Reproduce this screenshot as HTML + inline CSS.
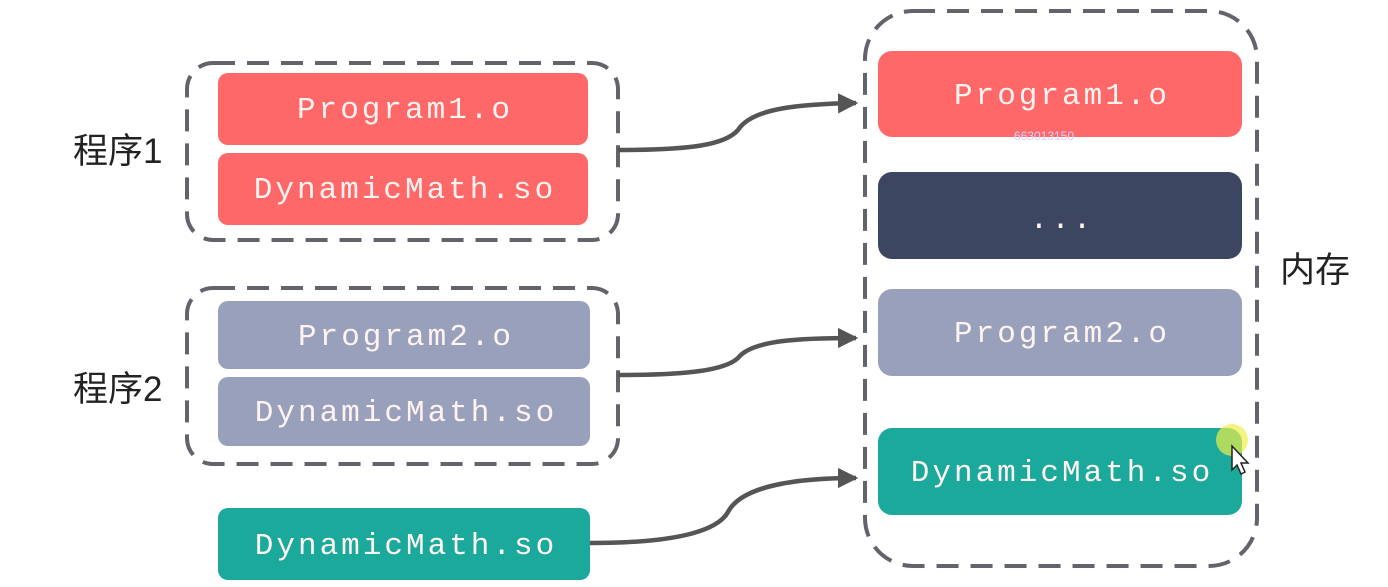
<!DOCTYPE html>
<html><head><meta charset="utf-8"><style>
html,body{margin:0;padding:0;background:#fff;width:1388px;height:587px;overflow:hidden}
svg{display:block}
.m{font-family:"Liberation Mono",monospace;font-size:31px;letter-spacing:3px;fill:#fdf3f0;text-anchor:middle}
.c{font-family:"Liberation Sans","Noto Sans CJK SC",sans-serif;font-size:35px;fill:#222}
</style></head><body>
<svg width="1388" height="587" viewBox="0 0 1388 587">
<defs><marker id="a" markerWidth="4.5" markerHeight="4.5" refX="4" refY="2.25" orient="auto" markerUnits="strokeWidth"><path d="M0,0 L4.5,2.25 L0,4.5 z" fill="#555"/></marker></defs>
<g fill="none" stroke="#62636b" stroke-width="4" stroke-dasharray="22,12">
<rect x="187" y="63" width="431" height="177" rx="26"/>
<rect x="187" y="288" width="431" height="176" rx="26"/>
<rect x="865" y="11" width="392" height="555" rx="48"/>
</g>
<rect x="218" y="73" width="370" height="72" rx="10" fill="#fe6868"/>
<rect x="218" y="153" width="370" height="72" rx="10" fill="#fe6868"/>
<rect x="218" y="301" width="372" height="68" rx="10" fill="#99a0bb"/>
<rect x="218" y="377" width="372" height="69" rx="10" fill="#99a0bb"/>
<rect x="218" y="508" width="372" height="72" rx="10" fill="#1aa99b"/>
<rect x="878" y="51" width="364" height="86" rx="14" fill="#fe6868"/>
<rect x="878" y="172" width="364" height="87" rx="14" fill="#3d4660"/>
<rect x="878" y="289" width="364" height="87" rx="14" fill="#99a0bb"/>
<rect x="878" y="428" width="364" height="87" rx="14" fill="#1aa99b"/>
<text class="m" x="405" y="118">Program1.o</text>
<text class="m" x="405" y="198">DynamicMath.so</text>
<text class="m" x="406" y="345">Program2.o</text>
<text class="m" x="406" y="421">DynamicMath.so</text>
<text class="m" x="406" y="554">DynamicMath.so</text>
<text class="m" x="1062" y="104">Program1.o</text>
<text class="m" x="1062" y="228">...</text>
<text class="m" x="1062" y="342">Program2.o</text>
<text class="m" x="1062" y="481">DynamicMath.so</text>
<text x="1044" y="140" font-family="Liberation Sans,sans-serif" font-size="12" fill="#d8d0ff" text-anchor="middle">663013150</text>
<text class="c" x="73" y="163">程序1</text>
<text class="c" x="73" y="401">程序2</text>
<text class="c" x="1280" y="282">内存</text>
<g fill="none" stroke="#555" stroke-width="4.5" marker-end="url(#a)">
<path d="M618,150 C690,150 725,145 738,130 C752,108 800,104 856,103"/>
<path d="M618,375 C690,375 725,370 738,358 C752,340 800,338 856,338"/>
<path d="M590,543 C680,543 718,530 728,512 C742,485 800,478 856,478"/>
</g>
<circle cx="1232" cy="440" r="16" fill="#eef04a" opacity="0.7"/>
<path d="M1232,446 l0,24 l5,-5 l4,9 l4,-2 l-4,-9 l7,0 z" fill="#fff" stroke="#222" stroke-width="1.5"/>
</svg>
</body></html>
